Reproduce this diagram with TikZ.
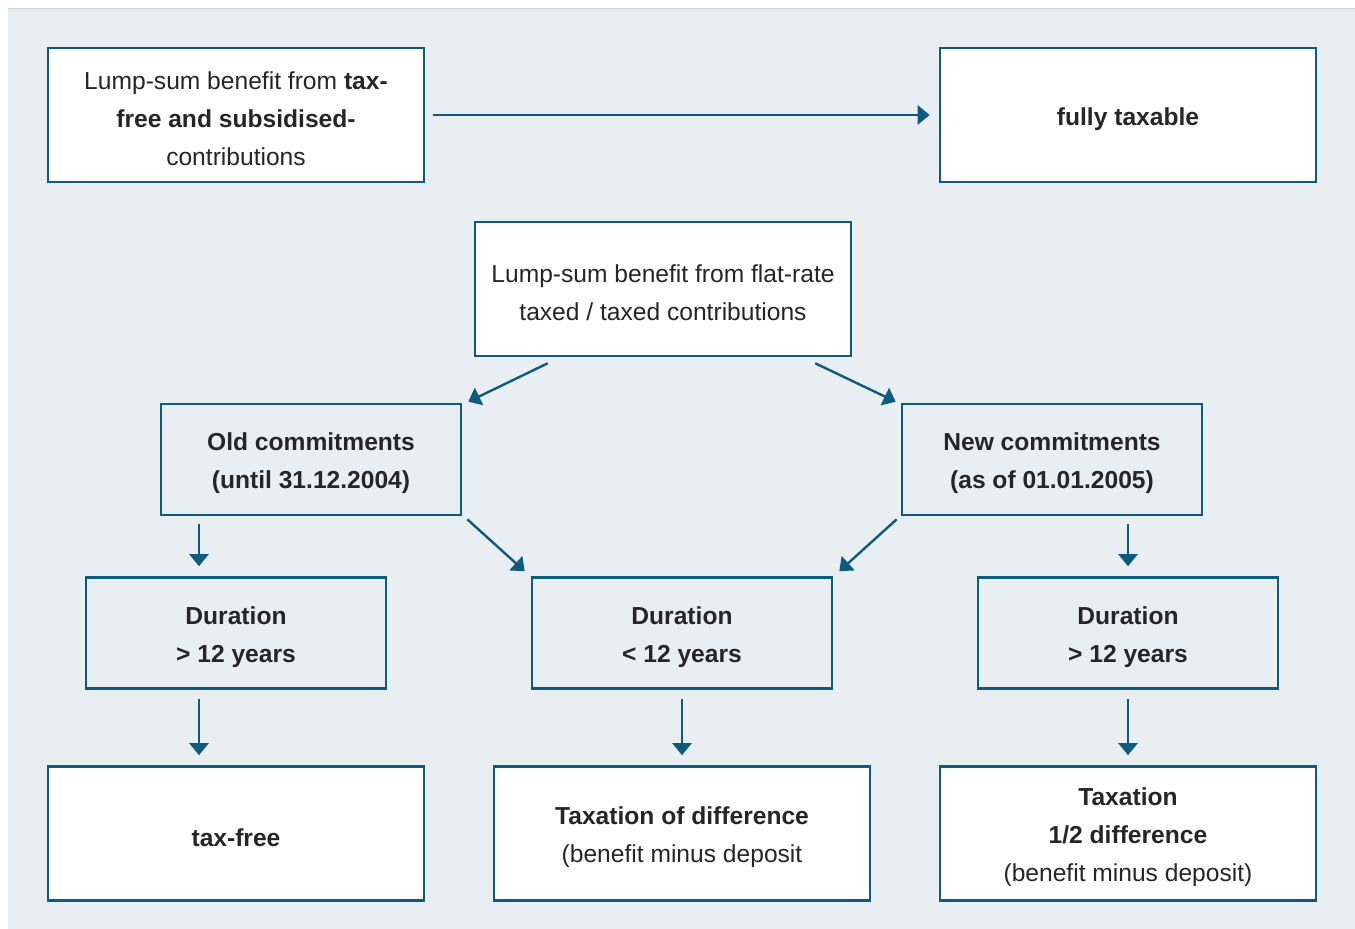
\documentclass[tikz,border=0pt]{standalone}
\usepackage{fontspec}
\setmainfont{Liberation Sans}
\usetikzlibrary{arrows.meta}
\definecolor{bord}{HTML}{0D5B7F}
\definecolor{bgc}{HTML}{E9EEF3}
\definecolor{txt}{HTML}{262626}
\definecolor{topline}{HTML}{CDD6DE}
\tikzset{
  box/.style={draw=bord, line width=2.6pt, inner sep=0pt},
  wbox/.style={box, fill=white, minimum width=376pt, minimum height=134pt},
  mbox/.style={box, minimum width=300pt, minimum height=111pt},
  tx/.style={inner sep=0pt, align=center, text=txt, font=\fontsize{24.6pt}{38pt}\selectfont},
  conn/.style={draw=bord, line width=2.4pt, -{Triangle[width=19pt,length=12pt]}},
}
\begin{document}
\begin{tikzpicture}[x=1pt,y=-1pt]
\useasboundingbox (0,0) rectangle (1355,929);
\fill[bgc] (8,9) rectangle (1355,929);
\draw[topline, line width=1.2pt] (8,8.5) -- (1355,8.5);
% boxes
\node[wbox] (A) at (236,115) {};
\node[wbox] (B) at (1128,115) {};
\node[wbox] (C) at (663,289) {};
\node[mbox] (D) at (311,459.5) {};
\node[mbox] (E) at (1052,459.5) {};
\node[mbox] (F) at (236,633) {};
\node[mbox] (G) at (682,633) {};
\node[mbox] (H) at (1128,633) {};
\node[wbox] (I) at (236,833.5) {};
\node[wbox] (J) at (682,833.5) {};
\node[wbox] (K) at (1128,833.5) {};
% texts
\node[tx] (At) at ([yshift=-4pt]A.center) {Lump-sum benefit from \textbf{tax-}\\\textbf{free and subsidised-}\\contributions};
\node[tx] (Bt) at ([yshift=-4pt]B.center) {\textbf{fully taxable}};
\node[tx] (Ct) at ([yshift=-4pt]C.center) {Lump-sum benefit from flat-rate\\taxed / taxed contributions};
\node[tx] (Dt) at ([yshift=-4pt]D.center) {\textbf{Old commitments}\\\textbf{(until 31.12.2004)}};
\node[tx] (Et) at ([yshift=-4pt]E.center) {\textbf{New commitments}\\\textbf{(as of 01.01.2005)}};
\node[tx] (Ft) at ([yshift=-4pt]F.center) {\textbf{Duration}\\\textbf{> 12 years}};
\node[tx] (Gt) at ([yshift=-4pt]G.center) {\textbf{Duration}\\\textbf{< 12 years}};
\node[tx] (Ht) at ([yshift=-4pt]H.center) {\textbf{Duration}\\\textbf{> 12 years}};
\node[tx] (It) at ([yshift=-4pt]I.center) {\textbf{tax-free}};
\node[tx] (Jt) at ([yshift=-4pt]J.center) {\textbf{Taxation of difference}\\(benefit minus deposit};
\node[tx] (Kt) at ([yshift=-4pt]K.center) {\textbf{Taxation}\\\textbf{1/2 difference}\\(benefit minus deposit)};
% connectors
\draw[conn, shorten <=8pt, shorten >=9pt] (A.east) -- (B.west);
\draw[conn] ([xshift=74pt,yshift=-6pt]C.south west) -- ([xshift=6pt,yshift=1pt]D.north east);
\draw[conn] ([xshift=-37pt,yshift=-6pt]C.south east) -- ([xshift=-5pt,yshift=1pt]E.north west);
\draw[conn] ([xshift=5pt,yshift=-3pt]D.south east) -- ([xshift=-6pt,yshift=5pt]G.north west);
\draw[conn] ([xshift=-4pt,yshift=-3pt]E.south west) -- ([xshift=6pt,yshift=5pt]G.north east);
\draw[conn, shorten <=8pt, shorten >=10pt] (D.south -| 199,0) -- (F.north -| 199,0);
\draw[conn, shorten <=8pt, shorten >=10pt] (E.south -| 1128,0) -- (H.north);
\draw[conn, shorten <=9pt, shorten >=10pt] (F.south -| 199,0) -- (I.north -| 199,0);
\draw[conn, shorten <=9pt, shorten >=10pt] (G.south) -- (J.north);
\draw[conn, shorten <=9pt, shorten >=10pt] (H.south) -- (K.north);
\end{tikzpicture}
\end{document}
